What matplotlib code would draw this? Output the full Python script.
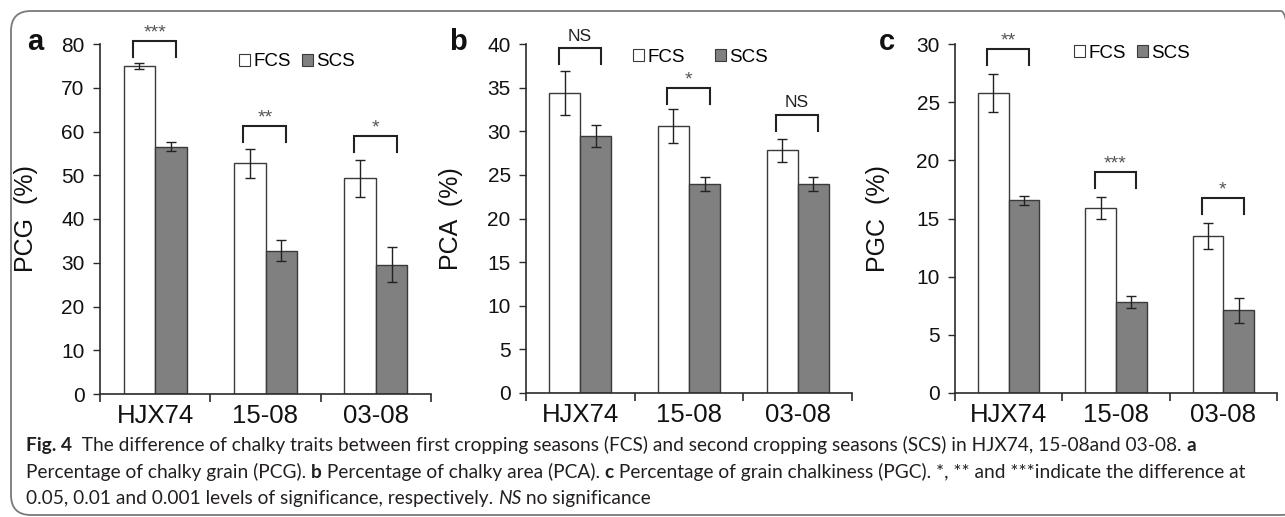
import matplotlib
matplotlib.use('Agg')
import matplotlib.pyplot as plt
from matplotlib.patches import Patch, FancyBboxPatch
from matplotlib.transforms import IdentityTransform

# ---------------- data ----------------
categories = ['HJX74', '15-08', '03-08']
series_names = ['FCS', 'SCS']

pcg_fcs = [75.0, 52.7, 49.3]
pcg_fcs_err = [0.7, 3.3, 4.2]
pcg_scs = [56.5, 32.7, 29.6]
pcg_scs_err = [1.0, 2.4, 3.9]
pcg_sig = ['***', '**', '*']
pcg_bracket = [80.7, 61.3, 59.0]

pca_fcs = [34.4, 30.6, 27.8]
pca_fcs_err = [2.5, 1.95, 1.3]
pca_scs = [29.5, 23.9, 23.9]
pca_scs_err = [1.25, 0.8, 0.8]
pca_sig = ['NS', '*', 'NS']
pca_bracket = [39.5, 35.0, 31.9]

pgc_fcs = [25.8, 15.9, 13.5]
pgc_fcs_err = [1.63, 0.93, 1.12]
pgc_scs = [16.55, 7.8, 7.1]
pgc_scs_err = [0.4, 0.5, 1.09]
pgc_sig = ['**', '***', '*']
pgc_bracket = [29.6, 19.0, 16.8]

panel_letters = ['a', 'b', 'c']
ylabels = ['PCG  (%)', 'PCA  (%)', 'PGC  (%)']
ymax = [80, 40, 30]
ystep = [10, 5, 5]

caption_lines = [
    [("Fig. 4", 'bold', 'normal'),
     ("  The difference of chalky traits between first cropping seasons (FCS) and second cropping seasons (SCS) in HJX74, 15-08and 03-08. ", 'normal', 'normal'),
     ("a", 'bold', 'normal')],
    [("Percentage of chalky grain (PCG). ", 'normal', 'normal'),
     ("b", 'bold', 'normal'),
     (" Percentage of chalky area (PCA). ", 'normal', 'normal'),
     ("c", 'bold', 'normal'),
     (" Percentage of grain chalkiness (PGC). *, ** and ***indicate the difference at", 'normal', 'normal')],
    [("0.05, 0.01 and 0.001 levels of significance, respectively. ", 'normal', 'normal'),
     ("NS", 'normal', 'italic'),
     (" no significance", 'normal', 'normal')],
]

# ---------------- layout ----------------
W, H = 1285, 517
DPI = 100
plt.rcParams['font.family'] = ['Liberation Sans', 'DejaVu Sans']
fig = plt.figure(figsize=(W / DPI, H / DPI), dpi=DPI)

# axes rectangles in pixels: left, top, right, bottom
rects_px = [(100, 44, 431, 394), (526, 44, 852, 393), (955, 44, 1277, 393)]
ylabel_x = [38, 463, 890]
letter_pos = [(27, 50), (449, 50), (879, 50)]
legend_pos = [(239, 62, 0.6), (633, 57, 1.6), (1074, 53, 0.6)]

panels = [
    (pcg_fcs, pcg_fcs_err, pcg_scs, pcg_scs_err, pcg_sig, pcg_bracket),
    (pca_fcs, pca_fcs_err, pca_scs, pca_scs_err, pca_sig, pca_bracket),
    (pgc_fcs, pgc_fcs_err, pgc_scs, pgc_scs_err, pgc_sig, pgc_bracket),
]

dark = '#2b2b2b'
bar_w = 0.286
off = 0.143

for k, (fcs, fcs_e, scs, scs_e, sig, brk) in enumerate(panels):
    l, t, r, b = rects_px[k]
    ax = fig.add_axes([l / W, (H - b) / H, (r - l) / W, (b - t) / H])
    x = list(range(len(categories)))
    xf = [i - off for i in x]
    xs = [i + off for i in x]
    ax.bar(xf, fcs, width=bar_w, color='white', edgecolor='#3a3a3a', linewidth=1.0, zorder=2)
    ax.bar(xs, scs, width=bar_w, color='#808080', edgecolor='#3a3a3a', linewidth=1.0, zorder=2)
    ax.errorbar(xf, fcs, yerr=fcs_e, fmt='none', ecolor='#222222', elinewidth=1.0,
                capsize=3.5, capthick=1.0, zorder=3)
    ax.errorbar(xs, scs, yerr=scs_e, fmt='none', ecolor='#222222', elinewidth=1.0,
                capsize=3.5, capthick=1.0, zorder=3)

    ax.set_xlim(-0.5, len(categories) - 0.5)
    ax.set_ylim(0, ymax[k])
    ax.set_yticks(range(0, ymax[k] + 1, ystep[k]))
    ax.set_xticks(x)
    ax.set_xticklabels(categories, fontsize=18.5, color='#111111')
    ax.set_xticks([i - 0.5 for i in range(len(categories) + 1)], minor=True)
    ax.tick_params(axis='x', which='major', length=0, pad=7)
    ax.tick_params(axis='x', which='minor', length=6, width=1.2, color=dark, direction='out')
    ax.tick_params(axis='y', which='major', length=5, width=1.0, color=dark,
                   labelsize=15, labelcolor='#111111', pad=6)
    for s in ['top', 'right']:
        ax.spines[s].set_visible(False)
    for s in ['left', 'bottom']:
        ax.spines[s].set_color(dark)
        ax.spines[s].set_linewidth(1.2)

    ax.set_ylabel(ylabels[k], fontsize=18, color='#111111')
    ax.yaxis.set_label_coords((ylabel_x[k] - l) / (r - l), 0.5)

    # significance brackets
    leg = 0.046 * ymax[k]
    for i in x:
        x0, x1 = i - 0.2, i + 0.19
        top = brk[i]
        ax.plot([x0, x0, x1, x1], [top - leg, top, top, top - leg], color='#222222',
                lw=1.5, clip_on=False, zorder=4, solid_joinstyle='miter')
        if sig[i] == 'NS':
            ax.annotate(sig[i], xy=((x0 + x1) / 2, top), xytext=(0, 12),
                        textcoords='offset pixels', ha='center', va='center',
                        fontsize=12.5, color='#222222', annotation_clip=False)
        else:
            ax.annotate(sig[i], xy=((x0 + x1) / 2, top), xytext=(0, 8),
                        textcoords='offset pixels', ha='center', va='center',
                        fontsize=14, color='#555555', annotation_clip=False)

    # legend
    lx, ly, cs = legend_pos[k]
    handles = [Patch(facecolor='white', edgecolor='#3a3a3a', linewidth=0.8, label=series_names[0]),
               Patch(facecolor='#808080', edgecolor='#3a3a3a', linewidth=0.8, label=series_names[1])]
    ax.legend(handles=handles, loc='center left',
              bbox_to_anchor=((lx - l) / (r - l), (b - ly) / (b - t)),
              ncol=2, frameon=False, fontsize=13.5, handlelength=0.6, handleheight=0.6,
              handletextpad=0.15, columnspacing=cs, borderpad=0, borderaxespad=0)

    # panel letter
    px, py = letter_pos[k]
    fig.text(px / W, (H - py) / H, panel_letters[k], fontsize=21, fontweight='bold',
             ha='left', va='baseline', color='#111111')

# ---------------- caption ----------------
cap_family = ['Lato', 'DejaVu Sans']
cap_color = '#231f20'
renderer = fig.canvas.get_renderer()


def text_width(s, size, weight, style):
    t = fig.text(0, 0, s, fontsize=size, fontweight=weight, fontstyle=style,
                 family=cap_family)
    w = t.get_window_extent(renderer).width
    t.remove()
    return w


def seg_width(s, size, weight, style):
    # robust width including leading/trailing spaces
    return text_width('|' + s + '|', size, weight, style) - text_width('||', size, weight, style)


base = 10.0
w_line2 = sum(seg_width(s, base, wt, st) for s, wt, st in caption_lines[1])
cap_size = base * 1222.0 / w_line2

baselines = [451, 478, 504]
x_start = 26
for line, yb in zip(caption_lines, baselines):
    xcur = x_start
    for s, wt, st in line:
        fig.text(xcur / W, (H - yb) / H, s, fontsize=cap_size, fontweight=wt,
                 fontstyle=st, family=cap_family, color=cap_color,
                 ha='left', va='baseline')
        xcur += seg_width(s, cap_size, wt, st)

# ---------------- border ----------------
box = FancyBboxPatch((11, 2), 1290, 504, boxstyle='round,pad=0,rounding_size=20',
                     transform=IdentityTransform(), fill=False, edgecolor='#7a7a7a',
                     linewidth=1.3)
fig.add_artist(box)

fig.savefig('out.png', dpi=DPI)
